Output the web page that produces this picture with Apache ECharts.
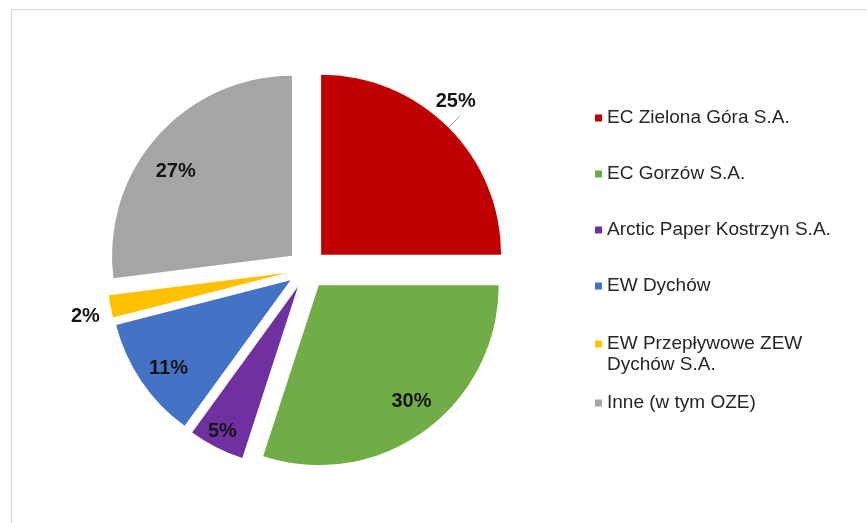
<!DOCTYPE html>
<html lang="pl">
<head>
    <meta charset="UTF-8">
    <title>Struktura produkcji</title>
    <style>
        html, body { margin: 0; padding: 0; background: #fff; }
    </style>
</head>
<body>

<div id="main-pie" style="width: 867px;height:523px;"></div>

<script type="text/javascript" src="https://cdn.jsdelivr.net/npm/echarts@6/dist/echarts.min.js"></script>
<script type="text/javascript">

    // dane z wykresu (%)
    var names = ['EC Zielona Góra S.A.', 'EC Gorzów S.A.', 'Arctic Paper Kostrzyn S.A.', 'EW Dychów', 'EW Przepływowe ZEW Dychów S.A.', 'Inne (w tym OZE)'];
    var values = [25, 30, 5, 11, 2, 27];
    var colors = ['#C00000', '#70AD47', '#7030A0', '#4472C4', '#FFC000', '#A5A5A5'];
    var outsideLabels = ['EC Zielona Góra S.A.', 'EW Przepływowe ZEW Dychów S.A.'];

    // drobne przesunięcia etykiet (jak w Excelu)
    var labelNudge = [[-29, -15], [4, -6], [-7, 10], [3, 3], [10, 7], [-3, 16]];

    var labelFont = {fontFamily: 'Liberation Sans', fontWeight: 'bold', fontSize: 20, color: '#151515'};
    var legendFont = {fontFamily: 'Liberation Sans', fontSize: 19, lineHeight: 20, color: '#262626'};

    var pieData = [];
    var labelData = [];
    for (var i = 0; i < names.length; i++) {
        var outside = outsideLabels.indexOf(names[i]) >= 0;
        pieData.push({
            name: names[i],
            value: values[i],
            selected: true,
            itemStyle: {color: colors[i]},
            label: {show: outside},
            labelLine: {show: names[i] === 'EC Zielona Góra S.A.'}
        });
        labelData.push({
            name: names[i],
            value: values[i],
            selected: true,
            label: {show: !outside}
        });
    }

    function nudge(p) {
        var d = labelNudge[p.dataIndex];
        return {dx: d[0], dy: d[1]};
    }

    var legendBase = {
        orient: 'vertical',
        left: 595,
        padding: 0,
        itemWidth: 7,
        itemHeight: 7,
        icon: 'rect',
        selectedMode: false,
        textStyle: legendFont
    };

    var chart = echarts.init(document.getElementById('main-pie'));

    chart.setOption({
        animation: false,
        graphic: [{
            type: 'rect',
            shape: {x: 11.5, y: 9.5, width: 900, height: 600},
            style: {fill: 'none', stroke: '#d6d6d6', lineWidth: 1},
            silent: true
        }],
        legend: [
            Object.assign({}, legendBase, {top: 108, itemGap: 36, data: names.slice(0, 4)}),
            Object.assign({}, legendBase, {
                top: 312,
                data: [names[4]],
                formatter: '{e| }\n{t|EW Przepływowe ZEW}\n{b|Dychów S.A.}',
                textStyle: Object.assign({}, legendFont, {
                    rich: {
                        e: {fontSize: 19, lineHeight: 22},
                        t: {fontSize: 19, lineHeight: 20, color: '#262626'},
                        b: {fontSize: 19, lineHeight: 22, color: '#262626'}
                    }
                })
            }),
            Object.assign({}, legendBase, {top: 393, data: [names[5]]})
        ],
        series: [{
            name: 'udział',
            type: 'pie',
            center: [307, 269],
            radius: 180,
            startAngle: 90,
            clockwise: true,
            selectedMode: 'multiple',
            selectedOffset: 20,
            emphasis: {disabled: true},
            label: Object.assign({position: 'outside', formatter: '{c}%'}, labelFont),
            labelLine: {length: 16, length2: 0, lineStyle: {color: '#999', width: 1}},
            labelLayout: nudge,
            data: pieData
        }, {
            name: 'etykiety',
            type: 'pie',
            center: [307, 269],
            radius: [116, 180],
            startAngle: 90,
            clockwise: true,
            selectedMode: 'multiple',
            selectedOffset: 20,
            silent: true,
            emphasis: {disabled: true},
            itemStyle: {color: 'rgba(0,0,0,0)'},
            label: Object.assign({position: 'inside', formatter: '{c}%'}, labelFont),
            labelLine: {show: false},
            labelLayout: nudge,
            data: labelData
        }]
    });
</script>
</body>
</html>
